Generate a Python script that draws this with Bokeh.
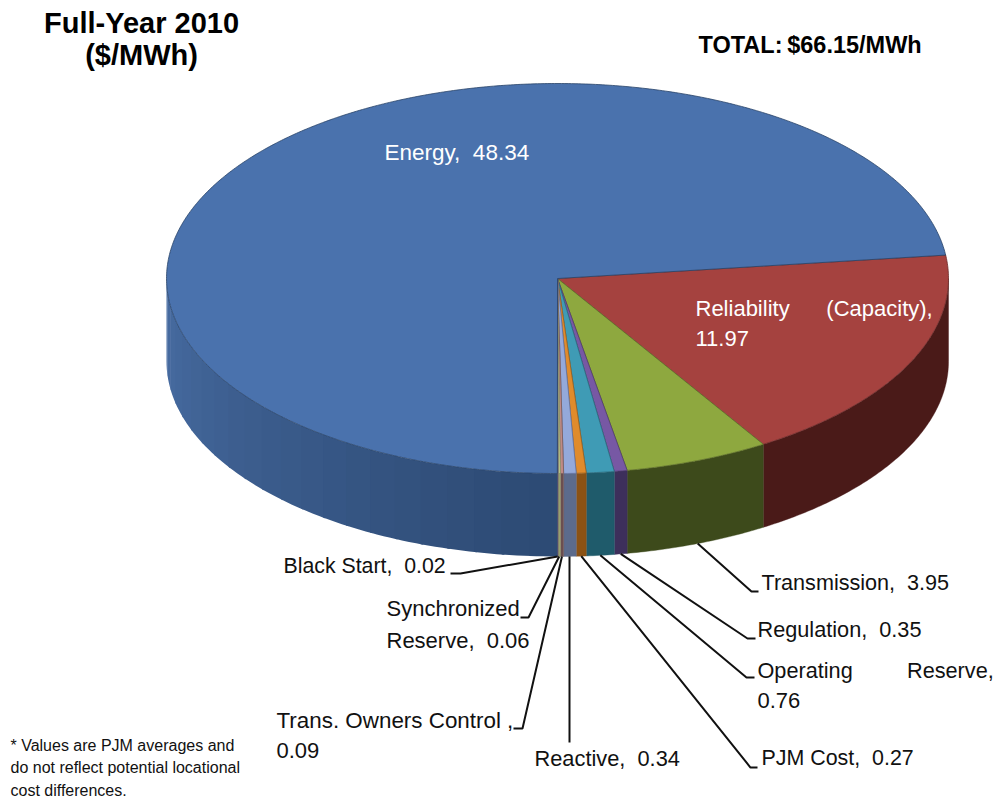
import math
from bokeh.plotting import figure
from bokeh.embed import file_html
from bokeh.resources import INLINE
from bokeh.core.properties import value

# ---- data (clockwise from the Reliability slice) ----
categories = ["Reliability (Capacity)", "Transmission", "Regulation", "Operating Reserve", "PJM Cost",
              "Reactive", "Trans. Owners Control", "Synchronized Reserve", "Black Start", "Energy"]
values = [11.97, 3.95, 0.35, 0.76, 0.27, 0.34, 0.09, 0.06, 0.02, 48.34]
top_colors = ["#A5423F", "#8EA83F", "#7758A4", "#3F9BB5", "#E08B2C", "#94A9DA", "#C08A86", "#C4D08E", "#7F6FA0", "#4A72AD"]
side_colors = ["#4A1A18", "#3D4A1B", "#3D2F5B", "#1F5B6B", "#8B5214", "#5C6B8C", "#6B4F50", "#9AA070", "#3D2F5B", "#2D4A74"]
edge_colors = ["#6B2A28", "#5E7028", "#4E3A6C", "#2A6A7C", "#9A5E1C", "#6070A0", "#7A5A58", "#8A9468", "#55486C", "#2A4468"]

# ---- geometry of the projected pie, in reference pixels ----
CX, CY, RX, RY, DEPTH = 557.0, 278.0, 391.0, 195.0, 83.0
START = 6.9


def pt(deg, dy=0.0):
    r = math.radians(deg)
    return CX + RX * math.cos(r), CY - RY * math.sin(r) + dy


def arc(a0, a1, step=0.5):
    n = max(2, int(abs(a1 - a0) / step) + 1)
    return [a0 + (a1 - a0) * i / (n - 1) for i in range(n)]


total = sum(values)
slices = []
a = START
for v in values:
    b = a - v / total * 360.0
    slices.append((a, b))
    a = b

p = figure(width=994, height=801, x_range=(0, 994), y_range=(801, 0), output_backend="svg",
           toolbar_location=None, min_border=0, outline_line_color=None, background_fill_color="white",
           border_fill_color="white")
p.xaxis.visible = False
p.yaxis.visible = False
p.grid.visible = False


def mix(hex_a, hex_b, t):
    ca = [int(hex_a[i:i + 2], 16) for i in (1, 3, 5)]
    cb = [int(hex_b[i:i + 2], 16) for i in (1, 3, 5)]
    return "#%02x%02x%02x" % tuple(round(x + (y - x) * t) for x, y in zip(ca, cb))


# rim (only the part of each slice below the horizontal axis shows)
for (a0, a1), col, name in zip(slices, side_colors, categories):
    lo_v, hi_v = max(a1, -180.0), min(a0, 0.0)
    if hi_v <= lo_v:
        continue
    if name == "Energy":
        # the blue rim lightens toward the left, in vertical bands; painted
        # from the left so that each band slightly overlaps the previous one
        bands = arc(lo_v, hi_v, step=4.0)
        for u, w in zip(bands[:-1], bands[1:]):
            t = min(1.0, abs(-90.0 - (u + w) / 2) / 90.0)
            c = mix("#2D4A74", "#486DA3", t ** 1.1)
            ang = arc(u, min(w + 0.4, hi_v), 1.0)
            pts = [pt(d) for d in ang] + [pt(d, DEPTH) for d in reversed(ang)]
            p.patch([q[0] for q in pts], [q[1] for q in pts], fill_color=c, line_color=None)
    else:
        ang = arc(hi_v, lo_v)
        pts = [pt(d) for d in ang] + [pt(d, DEPTH) for d in reversed(ang)]
        p.patch([q[0] for q in pts], [q[1] for q in pts], fill_color=col, line_color=col, line_width=0.4)

# top face
for (a0, a1), col, edge in zip(slices, top_colors, edge_colors):
    pts = [(CX, CY)] + [pt(d) for d in arc(a0, a1)]
    p.patch([q[0] for q in pts], [q[1] for q in pts], fill_color=col, line_color=edge, line_width=0.8)

# leader lines: slice's mid-angle on the lower rim -> elbow -> label
leaders = {
    "Transmission": [(751, 591), (758, 591)],
    "Regulation": [(747, 638), (755, 638)],
    "Operating Reserve": [(746, 677), (754, 677)],
    "PJM Cost": [(750, 767), (757, 767)],
    "Reactive": [(569, 742)],
    "Trans. Owners Control": [(522, 728), (513, 728)],
    "Synchronized Reserve": [(528, 617), (520, 617)],
    "Black Start": [(460, 573), (450, 573)],
}
for (a0, a1), name in zip(slices, categories):
    if name in leaders:
        s = pt((a0 + a1) / 2, DEPTH)
        pts = [s] + leaders[name]
        if name == "Reactive":
            pts = [(pts[1][0], s[1]), pts[1]]
        p.line([q[0] for q in pts], [q[1] for q in pts], line_color="#111111", line_width=2)

NB = "\u00a0"
labels = [
    ("Full-Year 2010", 141, 32, "center", "bold", 29, "black"),
    ("($/MWh)", 141, 64, "center", "bold", 29, "black"),
    ("TOTAL:\u2009$66.15/MWh", 698, 52, "left", "bold", 23.5, "black"),
    ("Energy, " + NB + "48.34", 384, 160, "left", "normal", 22.5, "white"),
    ("Reliability" + NB * 6 + "(Capacity),", 695, 315, "left", "normal", 22, "white"),
    ("11.97", 695, 345, "left", "normal", 22, "white"),
    ("Black Start, " + NB + "0.02", 283, 573, "left", "normal", 21.3, "#111111"),
    ("Synchronized", 386, 615, "left", "normal", 22, "#111111"),
    ("Reserve, " + NB + "0.06", 386, 647, "left", "normal", 22, "#111111"),
    ("Trans. Owners Control ,", 276, 728, "left", "normal", 22.4, "#111111"),
    ("0.09", 276, 757, "left", "normal", 22, "#111111"),
    ("Reactive, " + NB + "0.34", 534, 765, "left", "normal", 21.8, "#111111"),
    ("Transmission, " + NB + "3.95", 761, 589, "left", "normal", 21.6, "#111111"),
    ("Regulation, " + NB + "0.35", 757, 636, "left", "normal", 21.7, "#111111"),
    ("Operating" + NB * 9 + "Reserve,", 757, 677, "left", "normal", 21.7, "#111111"),
    ("0.76", 757, 707, "left", "normal", 22, "#111111"),
    ("PJM Cost, " + NB + "0.27", 761, 765, "left", "normal", 21.4, "#111111"),
    ("* Values are PJM averages and", 10, 750, "left", "normal", 16, "#111111"),
    ("do not reflect potential locational", 10, 772, "left", "normal", 16, "#111111"),
    ("cost differences.", 10, 795, "left", "normal", 16, "#111111"),
]
for txt, x, y, al, st, sz, col in labels:
    # y holds the reference baseline; the glyph is placed by its middle
    p.text([x], [y - 0.34 * sz], text=[txt], text_align=al, text_baseline="middle",
           text_font=value("Liberation Sans"), text_font_style=st,
           text_font_size=f"{sz}px", text_color=col)

open("out.html", "w").write(file_html(p, INLINE))
